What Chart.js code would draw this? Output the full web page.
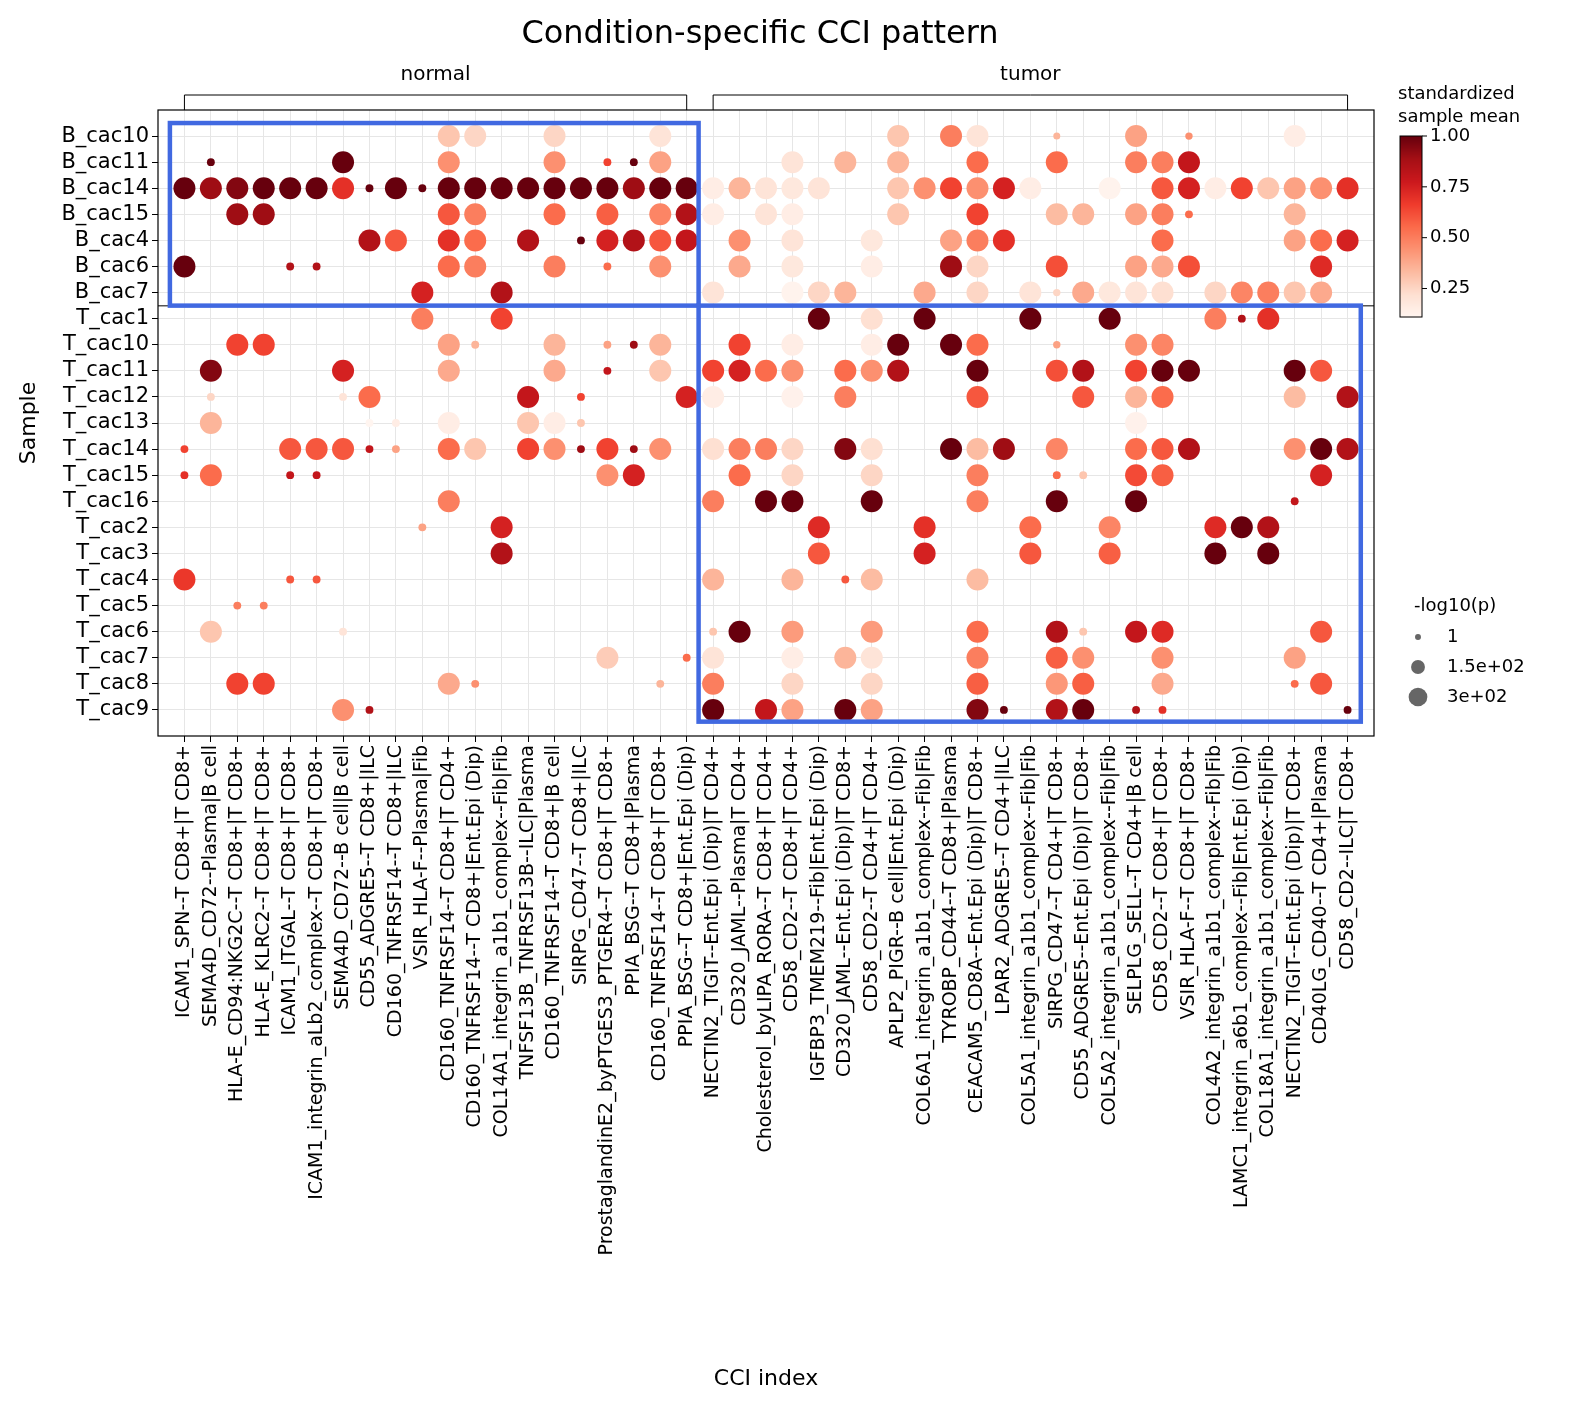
<!DOCTYPE html>
<html><head><meta charset="utf-8">
<script src="https://cdn.jsdelivr.net/npm/chart.js@4.4.0/dist/chart.umd.min.js"></script>
<style>html,body{margin:0;padding:0;background:#fff}#wrap{width:1581px;height:1410px}</style>
</head><body><div id="wrap"><canvas id="c" width="1581" height="1410"></canvas></div>
<script>
const columns = ["ICAM1_SPN--T CD8+|T CD8+","SEMA4D_CD72--Plasma|B cell","HLA-E_CD94:NKG2C--T CD8+|T CD8+","HLA-E_KLRC2--T CD8+|T CD8+","ICAM1_ITGAL--T CD8+|T CD8+","ICAM1_integrin_aLb2_complex--T CD8+|T CD8+","SEMA4D_CD72--B cell|B cell","CD55_ADGRE5--T CD8+|ILC","CD160_TNFRSF14--T CD8+|ILC","VSIR_HLA-F--Plasma|Fib","CD160_TNFRSF14--T CD8+|T CD4+","CD160_TNFRSF14--T CD8+|Ent.Epi (Dip)","COL14A1_integrin_a1b1_complex--Fib|Fib","TNFSF13B_TNFRSF13B--ILC|Plasma","CD160_TNFRSF14--T CD8+|B cell","SIRPG_CD47--T CD8+|ILC","ProstaglandinE2_byPTGES3_PTGER4--T CD8+|T CD8+","PPIA_BSG--T CD8+|Plasma","CD160_TNFRSF14--T CD8+|T CD8+","PPIA_BSG--T CD8+|Ent.Epi (Dip)","NECTIN2_TIGIT--Ent.Epi (Dip)|T CD4+","CD320_JAML--Plasma|T CD4+","Cholesterol_byLIPA_RORA--T CD8+|T CD4+","CD58_CD2--T CD8+|T CD4+","IGFBP3_TMEM219--Fib|Ent.Epi (Dip)","CD320_JAML--Ent.Epi (Dip)|T CD8+","CD58_CD2--T CD4+|T CD4+","APLP2_PIGR--B cell|Ent.Epi (Dip)","COL6A1_integrin_a1b1_complex--Fib|Fib","TYROBP_CD44--T CD8+|Plasma","CEACAM5_CD8A--Ent.Epi (Dip)|T CD8+","LPAR2_ADGRE5--T CD4+|ILC","COL5A1_integrin_a1b1_complex--Fib|Fib","SIRPG_CD47--T CD4+|T CD8+","CD55_ADGRE5--Ent.Epi (Dip)|T CD8+","COL5A2_integrin_a1b1_complex--Fib|Fib","SELPLG_SELL--T CD4+|B cell","CD58_CD2--T CD8+|T CD8+","VSIR_HLA-F--T CD8+|T CD8+","COL4A2_integrin_a1b1_complex--Fib|Fib","LAMC1_integrin_a6b1_complex--Fib|Ent.Epi (Dip)","COL18A1_integrin_a1b1_complex--Fib|Fib","NECTIN2_TIGIT--Ent.Epi (Dip)|T CD8+","CD40LG_CD40--T CD4+|Plasma","CD58_CD2--ILC|T CD8+"];
const samples = ["B_cac10","B_cac11","B_cac14","B_cac15","B_cac4","B_cac6","B_cac7","T_cac1","T_cac10","T_cac11","T_cac12","T_cac13","T_cac14","T_cac15","T_cac16","T_cac2","T_cac3","T_cac4","T_cac5","T_cac6","T_cac7","T_cac8","T_cac9"];
const conditionGroups = [["normal",1,20],["tumor",21,45]];
const sizeLegend = [1,150,300];
const cbarTicks = [0.25,0.5,0.75,1.0];
// each row: [column (1-based), standardized sample mean, -log10(p)]
const B_cac10 = [[11,.3,300],[12,.25,300],[15,.25,300],[19,.2,300],[28,.3,300],[30,.5,300],[31,.2,300],[34,.35,1],[37,.4,300],[39,.45,5],[43,.15,300]];
const B_cac11 = [[2,1,10],[7,1,300],[11,.45,300],[15,.45,300],[17,.65,10],[18,1,10],[19,.4,300],[24,.2,300],[26,.35,300],[28,.35,300],[31,.55,300],[34,.55,300],[37,.5,300],[38,.5,300],[39,.8,300]];
const B_cac14 = [[1,1,300],[2,.9,300],[3,.95,300],[4,1,300],[5,1,300],[6,1,300],[7,.7,300],[8,1,10],[9,1,300],[10,1,10],[11,1,300],[12,1,300],[13,1,300],[14,1,300],[15,1,300],[16,1,300],[17,1,300],[18,.9,300],[19,1,300],[20,1,300],[21,.15,300],[22,.35,300],[23,.2,300],[24,.18,300],[25,.2,300],[28,.3,300],[29,.45,300],[30,.65,300],[31,.45,300],[32,.75,300],[33,.15,300],[36,.12,300],[38,.6,300],[39,.75,300],[40,.15,300],[41,.65,300],[42,.3,300],[43,.4,300],[44,.45,300],[45,.7,300]];
const B_cac15 = [[3,.9,300],[4,.9,300],[11,.6,300],[12,.5,300],[15,.55,300],[17,.58,300],[19,.48,300],[20,.85,300],[21,.15,300],[23,.2,300],[24,.15,300],[28,.3,300],[31,.65,300],[34,.33,300],[35,.35,300],[37,.4,300],[38,.5,300],[39,.55,10],[43,.35,300]];
const B_cac4 = [[8,.85,300],[9,.6,300],[11,.7,300],[12,.55,300],[14,.85,300],[16,1,10],[17,.75,300],[18,.85,300],[19,.6,300],[20,.8,300],[22,.45,300],[24,.2,300],[27,.18,300],[30,.4,300],[31,.5,300],[32,.7,300],[38,.55,300],[43,.4,300],[44,.55,300],[45,.75,300]];
const B_cac6 = [[1,1,300],[5,.85,10],[6,.85,10],[11,.55,300],[12,.5,300],[15,.5,300],[17,.55,10],[19,.45,300],[22,.38,300],[24,.18,300],[27,.15,300],[30,.9,300],[31,.25,300],[34,.62,300],[37,.4,300],[38,.38,300],[39,.62,300],[44,.72,300]];
const B_cac7 = [[10,.75,300],[13,.85,300],[21,.2,300],[24,.12,300],[25,.25,300],[26,.35,300],[29,.38,300],[31,.25,300],[33,.2,300],[34,.25,5],[35,.38,300],[36,.18,300],[37,.2,300],[38,.22,300],[40,.25,300],[41,.48,300],[42,.5,300],[43,.3,300],[44,.38,300]];
const T_cac1 = [[10,.5,300],[13,.65,300],[25,1,300],[27,.22,300],[29,1,300],[33,1,300],[36,1,300],[40,.5,300],[41,.85,10],[42,.7,300]];
const T_cac10 = [[3,.65,300],[4,.65,300],[11,.4,300],[12,.35,10],[15,.35,300],[17,.4,10],[18,.9,10],[19,.35,300],[22,.65,300],[24,.15,300],[27,.15,300],[28,1,300],[30,1,300],[31,.55,300],[34,.4,5],[37,.45,300],[38,.48,300]];
const T_cac11 = [[2,.95,300],[7,.75,300],[11,.38,300],[15,.38,300],[17,.8,10],[19,.3,300],[21,.65,300],[22,.75,300],[23,.55,300],[24,.45,300],[26,.55,300],[27,.45,300],[28,.85,300],[31,1,300],[34,.62,300],[35,.85,300],[37,.65,300],[38,1,300],[39,1,300],[43,1,300],[44,.6,300]];
const T_cac12 = [[2,.25,10],[7,.2,10],[8,.55,300],[14,.8,300],[16,.65,10],[20,.75,300],[21,.15,300],[24,.13,300],[26,.5,300],[31,.6,300],[35,.6,300],[37,.35,300],[38,.55,300],[43,.33,300],[45,.85,300]];
const T_cac13 = [[2,.35,300],[8,.1,10],[9,.15,10],[11,.15,300],[14,.3,300],[15,.15,300],[16,.3,10],[37,.13,300]];
const T_cac14 = [[1,.65,10],[5,.6,300],[6,.6,300],[7,.6,300],[8,.8,10],[9,.4,10],[11,.55,300],[12,.3,300],[14,.65,300],[15,.45,300],[16,.9,10],[17,.65,300],[18,.9,10],[19,.45,300],[21,.22,300],[22,.5,300],[23,.5,300],[24,.25,300],[26,.95,300],[27,.22,300],[30,1,300],[31,.33,300],[32,.9,300],[34,.48,300],[37,.55,300],[38,.6,300],[39,.85,300],[43,.45,300],[44,1,300],[45,.85,300]];
const T_cac15 = [[1,.7,10],[2,.55,300],[5,.8,10],[6,.8,10],[17,.45,300],[18,.75,300],[22,.55,300],[24,.25,300],[27,.25,300],[31,.5,300],[34,.55,10],[35,.3,10],[37,.63,300],[38,.58,300],[44,.75,300]];
const T_cac16 = [[11,.5,300],[21,.5,300],[23,1,300],[24,1,300],[27,1,300],[31,.5,300],[34,1,300],[37,1,300],[43,.8,10]];
const T_cac2 = [[10,.4,10],[13,.75,300],[25,.72,300],[29,.7,300],[33,.55,300],[36,.48,300],[40,.72,300],[41,1,300],[42,.85,300]];
const T_cac3 = [[13,.85,300],[25,.6,300],[29,.75,300],[33,.6,300],[36,.58,300],[40,1,300],[42,1,300]];
const T_cac4 = [[1,.68,300],[5,.6,10],[6,.6,10],[21,.35,300],[24,.35,300],[26,.6,10],[27,.33,300],[31,.33,300]];
const T_cac5 = [[3,.5,10],[4,.5,10]];
const T_cac6 = [[2,.3,300],[7,.2,10],[21,.3,10],[22,1,300],[24,.42,300],[27,.42,300],[31,.55,300],[34,.85,300],[35,.3,10],[37,.8,300],[38,.72,300],[44,.6,300]];
const T_cac7 = [[17,.28,300],[20,.55,10],[21,.2,300],[24,.15,300],[26,.35,300],[27,.2,300],[31,.5,300],[34,.58,300],[35,.45,300],[38,.45,300],[43,.4,300]];
const T_cac8 = [[3,.65,300],[4,.65,300],[11,.38,300],[12,.45,10],[19,.35,10],[21,.5,300],[24,.25,300],[27,.25,300],[31,.58,300],[34,.43,300],[35,.58,300],[38,.38,300],[43,.55,10],[44,.6,300]];
const T_cac9 = [[7,.45,300],[8,.85,10],[21,1,300],[23,.8,300],[24,.4,300],[26,1,300],[27,.4,300],[31,.95,300],[32,1,10],[34,.85,300],[35,1,300],[37,.85,10],[38,.7,10],[45,1,10]];
const rowData = [B_cac10,B_cac11,B_cac14,B_cac15,B_cac4,B_cac6,B_cac7,T_cac1,T_cac10,T_cac11,T_cac12,T_cac13,T_cac14,T_cac15,T_cac16,T_cac2,T_cac3,T_cac4,T_cac5,T_cac6,T_cac7,T_cac8,T_cac9];

const VMIN=0.11, VMAX=1.0;
const reds=["#fff5f0","#fee0d2","#fcbba1","#fc9272","#fb6a4a","#ef3b2c","#cb181d","#a50f15","#67000d"];
function hex(h){return [1,3,5].map(i=>parseInt(h.substr(i,2),16));}
function redsColor(v){let t=(v-VMIN)/(VMAX-VMIN);t=Math.max(0,Math.min(1,t));const s=t*8,i=Math.min(7,Math.floor(s)),f=s-i;const a=hex(reds[i]),b=hex(reds[i+1]);return `rgb(${a.map((x,k)=>Math.round(x+(b[k]-x)*f)).join(',')})`;}
function radius(p){return Math.sqrt(12.25+0.3637*(p-1));}

const pts=[];
rowData.forEach((row,ri)=>row.forEach(([c,v,p])=>pts.push({x:c-1,y:ri,v,p})));

const FONT='"DejaVu Sans", sans-serif';
const deco={id:'deco',afterDatasetsDraw(ch){
 const ctx=ch.ctx,xs=ch.scales.x,ys=ch.scales.y,a=ch.chartArea;
 ctx.save();
 const ysep=(ys.getPixelForValue(6)+ys.getPixelForValue(7))/2;
 ctx.strokeStyle='#555';ctx.lineWidth=1.5;ctx.beginPath();ctx.moveTo(a.left,ysep);ctx.lineTo(a.right,ysep);ctx.stroke();
 ctx.strokeStyle='#000';ctx.lineWidth=1.2;ctx.strokeRect(a.left,a.top,a.right-a.left,a.bottom-a.top);
 ctx.strokeStyle='#4169e1';ctx.lineWidth=4.5;
 const x0=xs.getPixelForValue(-0.55),x1=xs.getPixelForValue(19.45),x2=xs.getPixelForValue(44.5);
 ctx.strokeRect(x0,ys.getPixelForValue(-0.5),x1-x0,ysep-ys.getPixelForValue(-0.5));
 ctx.strokeRect(x1,ysep,x2-x1,ys.getPixelForValue(22.45)-ysep);
 ctx.strokeStyle='#000';ctx.lineWidth=1;ctx.fillStyle='#000';ctx.font='20px '+FONT;ctx.textAlign='center';ctx.textBaseline='alphabetic';
 conditionGroups.forEach(([n,s,e])=>{const l=xs.getPixelForValue(s-1),r=xs.getPixelForValue(e-1);
  ctx.beginPath();ctx.moveTo(l,110);ctx.lineTo(l,95);ctx.lineTo(r,95);ctx.lineTo(r,110);ctx.stroke();
  ctx.fillText(n,(l+r)/2,80);});
 ctx.font='32px '+FONT;ctx.fillText('Condition-specific CCI pattern',760,43);
 const cx=1400,cw=22,ct=136,cb=317;
 for(let y=ct;y<cb;y++){const v=VMAX-(y-ct)/(cb-ct)*(VMAX-VMIN);ctx.fillStyle=redsColor(v);ctx.fillRect(cx,y,cw,1.5);}
 ctx.strokeStyle='#000';ctx.strokeRect(cx,ct,cw,cb-ct);
 ctx.fillStyle='#000';ctx.font='18px '+FONT;ctx.textAlign='left';ctx.textBaseline='middle';
 cbarTicks.forEach(t=>{const y=ct+(VMAX-t)/(VMAX-VMIN)*(cb-ct);ctx.beginPath();ctx.moveTo(cx+cw,y);ctx.lineTo(cx+cw+5,y);ctx.stroke();ctx.fillText(t.toFixed(2),cx+cw+8,y);});
 ctx.textBaseline='alphabetic';ctx.fillText('standardized',1398,99);ctx.fillText('sample mean',1398,122);
 ctx.fillText('-log10(p)',1414,611);
 const labs=['1','1.5e+02','3e+02'];
 sizeLegend.forEach((p,i)=>{const y=637+i*30;ctx.fillStyle='#666';ctx.beginPath();ctx.arc(1418,y,radius(p)*0.85,0,Math.PI*2);ctx.fill();
  ctx.fillStyle='#000';ctx.textBaseline='middle';ctx.fillText(labs[i],1447,y);});
 ctx.restore();
}};

new Chart(document.getElementById('c'),{
 type:'scatter',
 data:{datasets:[{data:pts,
   backgroundColor:c=>c.raw?redsColor(c.raw.v):'#000',
   pointRadius:c=>c.raw?radius(c.raw.p):3,
   pointHoverRadius:c=>c.raw?radius(c.raw.p):3,
   borderWidth:0}]},
 plugins:[deco],
 options:{responsive:false,animation:false,
  layout:{padding:{top:110,right:207,left:0,bottom:0}},
  plugins:{legend:{display:false},tooltip:{enabled:false}},
  scales:{
   x:{type:'linear',min:-1,max:45,
     afterBuildTicks:s=>{s.ticks=columns.map((_,i)=>({value:i}));},
     afterFit:s=>{s.height=674;},
     ticks:{autoSkip:false,maxRotation:90,minRotation:90,color:'#000',font:{size:19,family:FONT},callback:v=>columns[v]},
     grid:{color:'#e6e6e6',tickColor:'#000',tickLength:6,drawOnChartArea:true},border:{display:false},
     title:{display:true,text:'CCI index',color:'#000',font:{size:22,family:FONT},padding:{top:4,bottom:18}}},
   y:{type:'linear',min:-1,max:23,reverse:true,
     afterBuildTicks:s=>{s.ticks=samples.map((_,i)=>({value:i}));},
     afterFit:s=>{s.width=158;},
     ticks:{autoSkip:false,color:'#000',font:{size:21,family:FONT},callback:v=>samples[v]},
     grid:{color:'#e6e6e6',tickColor:'#000',tickLength:6},border:{display:false},
     title:{display:true,text:'Sample',color:'#000',font:{size:22,family:FONT},padding:{top:16,bottom:0}}}
  }}
});
</script></body></html>
